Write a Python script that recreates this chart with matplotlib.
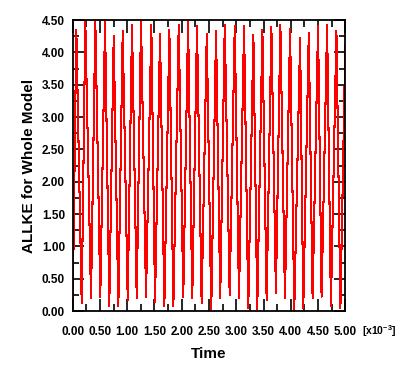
import numpy as np
import matplotlib
matplotlib.use("Agg")
import matplotlib.pyplot as plt
from matplotlib.ticker import MultipleLocator, FormatStrFormatter

# Time values in units of 1e-3
t_start = [0.0]
v_start = [0.0]
t_peak = [0.066, 0.231, 0.415, 0.593, 0.752, 0.917, 1.088, 1.253, 1.442, 1.602,
          1.773, 1.945, 2.116, 2.280, 2.459, 2.629, 2.789, 2.972, 3.143, 3.314,
          3.479, 3.644, 3.809, 3.987, 4.171, 4.330, 4.500, 4.666, 4.837, 5.000]
v_peak = [4.35, 4.48, 4.47, 4.47, 4.25, 4.33, 4.42, 4.49, 4.42, 4.28,
          4.35, 4.43, 4.47, 4.41, 4.28, 4.33, 4.43, 4.41, 4.41, 4.27,
          4.35, 4.39, 4.43, 4.36, 4.22, 4.30, 4.41, 4.43, 4.33, 4.12]
t_trough = [0.165, 0.336, 0.506, 0.671, 0.837, 1.009, 1.174, 1.345, 1.510, 1.681,
            1.846, 2.028, 2.193, 2.365, 2.541, 2.706, 2.879, 3.050, 3.220, 3.385,
            3.557, 3.727, 3.893, 4.064, 4.229, 4.400, 4.565, 4.736, 4.910]
v_trough = [0.12, 0.20, 0.22, 0.08, 0.07, 0.17, 0.20, 0.22, 0.14, 0.07,
            0.07, 0.22, 0.20, 0.12, 0.00, 0.20, 0.25, 0.20, 0.04, 0.03,
            0.17, 0.27, 0.20, 0.02, 0.04, 0.20, 0.22, 0.07, 0.04]

x_ticks = [0.0, 0.5, 1.0, 1.5, 2.0, 2.5, 3.0, 3.5, 4.0, 4.5, 5.0]
y_ticks = [0.0, 0.5, 1.0, 1.5, 2.0, 2.5, 3.0, 3.5, 4.0, 4.5]

t = np.array(t_start + t_peak + t_trough)
v = np.array(v_start + v_peak + v_trough)
order = np.argsort(t)
t, v = t[order], v[order]

plt.rcParams['font.family'] = ['Liberation Sans', 'DejaVu Sans']
plt.rcParams['mathtext.fontset'] = 'custom'
plt.rcParams['mathtext.rm'] = 'Liberation Sans:bold'
plt.rcParams['mathtext.bf'] = 'Liberation Sans:bold'

W, H = 403, 372
fig = plt.figure(figsize=(W / 100, H / 100), dpi=100)
x0, x1, y0, y1 = 72.7, 345.3, 20.0, 311.0
ax = fig.add_axes([x0 / W, 1 - y1 / H, (x1 - x0) / W, (y1 - y0) / H])
ax.plot(t, v, color='#ff0000', lw=0.75, antialiased=False)

ax.set_xlim(0, 5)
ax.set_ylim(0, 4.5)
ax.set_xticks(x_ticks)
ax.set_yticks(y_ticks)
ax.xaxis.set_minor_locator(MultipleLocator(0.25))
ax.yaxis.set_minor_locator(MultipleLocator(0.25))
ax.xaxis.set_major_formatter(FormatStrFormatter('%.2f'))
ax.yaxis.set_major_formatter(FormatStrFormatter('%.2f'))
ax.tick_params(which='both', direction='in', top=True, right=True, color='black', width=1.2)
ax.tick_params(axis='x', which='major', length=9, pad=11)
ax.tick_params(axis='x', which='minor', length=5)
ax.tick_params(axis='y', which='major', length=8, pad=5.5)
ax.tick_params(axis='y', which='minor', length=4)
for lab in ax.get_xticklabels() + ax.get_yticklabels():
    lab.set_fontweight('bold')
    lab.set_fontsize(8.5)
for s in ax.spines.values():
    s.set_linewidth(1.3)

fig.text(209 / W, 1 - 357.5 / H, 'Time', fontsize=11, fontweight='bold',
         ha='center', va='baseline')
fig.text(29 / W, 1 - 165.5 / H, 'ALLKE for Whole Model', fontsize=11,
         fontweight='bold', rotation=90, ha='center', va='center')
fig.text(362 / W, 1 - 335 / H, r'[x10$^{\mathbf{-3}}$]', fontsize=7.5,
         fontweight='bold', ha='left', va='baseline')

fig.savefig('out.png', dpi=100)
